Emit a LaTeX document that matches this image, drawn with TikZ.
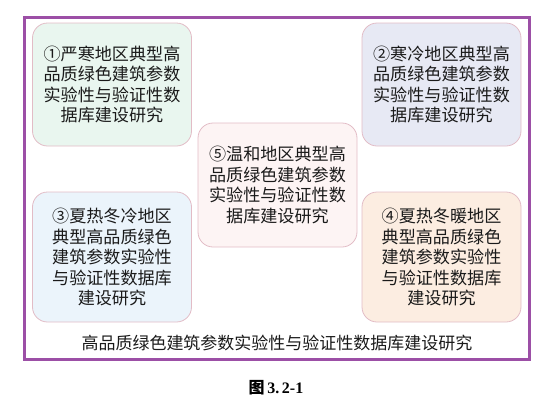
\documentclass[tikz,border=0pt]{standalone}
\usepackage{fontspec}
\setmainfont{Noto Sans CJK SC}
\newfontfamily\numfont{Liberation Serif}
\usepackage{tikz}

\definecolor{framepurple}{HTML}{9C4FA6}
\definecolor{boxline}{HTML}{E2BCC6}
\definecolor{txtgray}{HTML}{1A1A1A}
\definecolor{fillgreen}{HTML}{E9F6EF}
\definecolor{fillblue}{HTML}{E7E9F4}
\definecolor{fillpink}{HTML}{FDF4F4}
\definecolor{fillsky}{HTML}{EBF4FB}
\definecolor{fillpeach}{HTML}{FCEDE1}

\tikzset{
  region/.style={rectangle, rounded corners=15pt, draw=boxline, line width=0.8pt,
    minimum width=159pt, align=center, text=txtgray, font=\fontsize{17.1}{20.5}\selectfont,
    inner sep=0pt}
}

\begin{document}
\begin{tikzpicture}[x=1pt, y=-1pt]
                    \useasboundingbox (0,0) rectangle (550,405);
                    % Frame
                    \draw[framepurple, line width=3pt] (24,17) rectangle (529,359);
                    % Nodes
                    \node[region, fill=fillgreen, minimum height=123pt] (1) at (112,84.5) {①严寒地区典型高\\品质绿色建筑参数\\实验性与验证性数\\据库建设研究};
                    \node[region, fill=fillblue, minimum height=123pt] (2) at (441.5,84.5) {②寒冷地区典型高\\品质绿色建筑参数\\实验性与验证性数\\据库建设研究};
                    \node[region, fill=fillpink, minimum height=124pt] (5) at (277.5,185) {⑤温和地区典型高\\品质绿色建筑参数\\实验性与验证性数\\据库建设研究};
                    \node[region, fill=fillsky, minimum height=130pt] (3) at (112,257) {③夏热冬冷地区\\典型高品质绿色\\建筑参数实验性\\与验证性数据库\\建设研究};
                    \node[region, fill=fillpeach, minimum height=130pt] (4) at (441.5,257) {④夏热冬暖地区\\典型高品质绿色\\建筑参数实验性\\与验证性数据库\\建设研究};
                    % Title and caption
                    \node[text=txtgray, font=\fontsize{17}{20}\selectfont] (title) at (277,343) {高品质绿色建筑参数实验性与验证性数据库建设研究};
                    \node[font=\fontsize{16}{18}\selectfont\bfseries] (caption) at (276,388) {图\,{\numfont\bfseries 3.\,2-1}};
                \end{tikzpicture}
\end{document}
